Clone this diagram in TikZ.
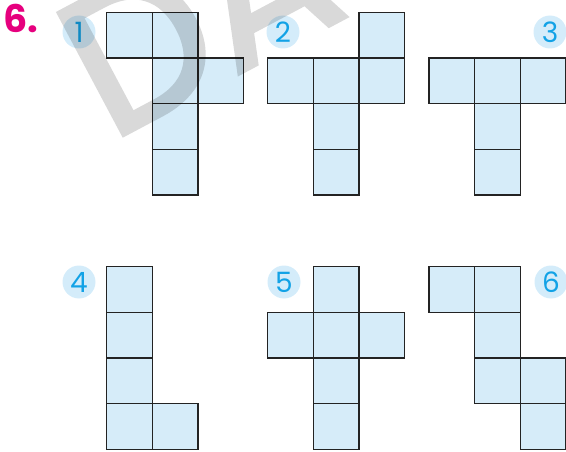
\documentclass[tikz,border=0pt]{standalone}
\usepackage{fontspec}
\setmainfont{Poppins}
\newfontfamily\wmfont[FakeBold=2.2]{Poppins}
\definecolor{cellblue}{RGB}{214,236,249}
\definecolor{circblue}{RGB}{212,236,250}
\definecolor{numblue}{RGB}{18,162,230}
\definecolor{pinkmag}{RGB}{230,0,126}
\definecolor{edge}{RGB}{35,35,35}
\tikzset{
  cell/.style={fill=cellblue, draw=edge, line width=1.3pt},
  badge/.style={circle, fill=circblue, minimum size=33pt, inner sep=0pt,
    text=numblue, font=\fontsize{28}{28}\selectfont},
}
\newcommand{\cellat}[2]{\draw[cell] (#1,#2) rectangle ++(45.7,45.7);}
\begin{document}
\begin{tikzpicture}[x=1pt,y=-1pt]
\useasboundingbox (0,0) rectangle (566,452);
\clip (0,0) rectangle (566,452);
% heading
\node[anchor=base west, inner sep=0pt, text=pinkmag, font=\fontsize{38}{38}\selectfont\bfseries] (title) at (3,33) {6.};
% net 1
\cellat{106.7}{12.3}\cellat{152.4}{12.3}
\cellat{152.4}{58}\cellat{198.1}{58}
\cellat{152.4}{103.7}\cellat{152.4}{149.4}
% net 2
\cellat{359.1}{12.3}
\cellat{267.7}{58}\cellat{313.4}{58}\cellat{359.1}{58}
\cellat{313.4}{103.7}\cellat{313.4}{149.4}
% net 3
\cellat{429}{58}\cellat{474.7}{58}\cellat{520.4}{58}
\cellat{474.7}{103.7}\cellat{474.7}{149.4}
% net 4
\cellat{106.7}{266.7}\cellat{106.7}{312.4}\cellat{106.7}{358.1}
\cellat{106.7}{403.8}\cellat{152.4}{403.8}
% net 5
\cellat{313.4}{266.7}
\cellat{267.7}{312.4}\cellat{313.4}{312.4}\cellat{359.1}{312.4}
\cellat{313.4}{358.1}\cellat{313.4}{403.8}
% net 6
\cellat{429}{266.7}\cellat{474.7}{266.7}
\cellat{474.7}{312.4}
\cellat{474.7}{358.1}\cellat{520.4}{358.1}
\cellat{520.4}{403.8}
% badges
\node[badge] (b1) at (79,32) {1};
\node[badge] (b2) at (283,32) {2};
\node[badge] (b3) at (550,32) {3};
\node[badge] (b4) at (79,282) {4};
\node[badge] (b5) at (284,282) {5};
\node[badge] (b6) at (551,282) {6};
% watermark
\begin{scope}[transparency group, opacity=0.15]
\node[anchor=base west, inner sep=0pt, rotate=28, text=black,
  font=\wmfont\fontsize{198}{198}\selectfont] (wm) at (110,142) {DA};
\end{scope}
\end{tikzpicture}
\end{document}
